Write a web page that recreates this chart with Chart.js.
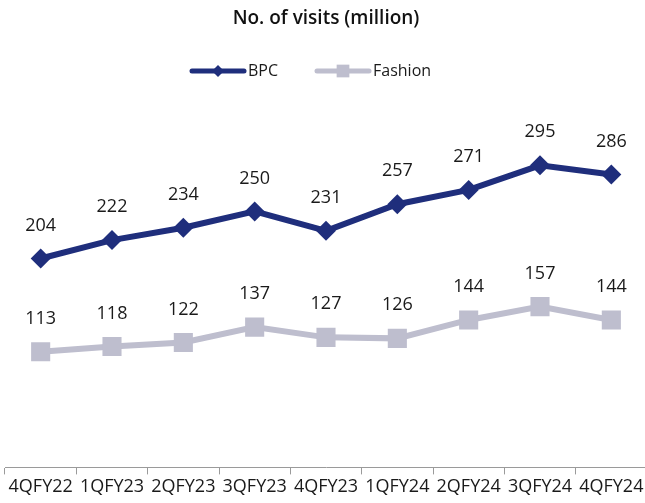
<!DOCTYPE html>
<html lang="en">
<head>
  <meta charset="UTF-8" />
  <title>No. of visits</title>
  <style>
    body {
      margin: 0;
      padding: 0;
      background: #fff;
      overflow: hidden;
    }

    #wrap {
      width: 645px;
      height: 503px;
      overflow: hidden;
    }
  </style>
</head>
<body>
  <div id="wrap">
    <canvas id="visitsChart" width="650" height="503"></canvas>
  </div>

  <script src="https://cdn.jsdelivr.net/npm/chart.js"></script>
  <script>
    const quarters = ["4QFY22", "1QFY23", "2QFY23", "3QFY23", "4QFY23", "1QFY24", "2QFY24", "3QFY24", "4QFY24"];
    const bpcVisits = [204, 222, 234, 250, 231, 257, 271, 295, 286];
    const fashionVisits = [113, 118, 122, 137, 127, 126, 144, 157, 144];

    const BPC_COLOR = "#1f2e7c";
    const FASHION_COLOR = "#bebece";
    const FONT = "'Open Sans', 'Noto Sans', sans-serif";

    // values above every point
    const valueLabels = {
      id: "valueLabels",
      afterDatasetsDraw(chart) {
        const ctx = chart.ctx;
        ctx.save();
        ctx.font = "18px " + FONT;
        ctx.fillStyle = "#1a1a1a";
        ctx.textAlign = "center";
        ctx.textBaseline = "middle";
        chart.data.datasets.forEach((ds, i) => {
          chart.getDatasetMeta(i).data.forEach((pt, j) => {
            ctx.fillText(ds.data[j], pt.x, pt.y - 33);
          });
        });
        ctx.restore();
      }
    };

    // legend drawn as line + marker, like the office chart
    const lineLegend = {
      id: "lineLegend",
      afterDraw(chart) {
        const ctx = chart.ctx;
        const items = [
          { x: 190, text: "BPC", color: BPC_COLOR, style: "rectRot", r: 6 },
          { x: 315, text: "Fashion", color: FASHION_COLOR, style: "rect", r: 9 }
        ];
        const y = 71;
        ctx.save();
        ctx.font = "16px " + FONT;
        ctx.textBaseline = "middle";
        items.forEach(it => {
          ctx.strokeStyle = it.color;
          ctx.lineWidth = 5;
          ctx.lineCap = "round";
          ctx.beginPath();
          ctx.moveTo(it.x + 2, y);
          ctx.lineTo(it.x + 54, y);
          ctx.stroke();
          ctx.fillStyle = it.color;
          Chart.helpers.drawPoint(ctx, { pointStyle: it.style, rotation: 0, radius: it.r, borderWidth: 0 }, it.x + 28, y);
          ctx.fillStyle = "#1a1a1a";
          ctx.fillText(it.text, it.x + 58, y);
        });
        ctx.restore();
      }
    };

    new Chart(document.getElementById("visitsChart"), {
      type: "line",
      data: {
        labels: quarters,
        datasets: [
          {
            label: "BPC",
            data: bpcVisits,
            borderColor: BPC_COLOR,
            backgroundColor: BPC_COLOR,
            borderWidth: 6,
            pointStyle: "rectRot",
            pointRadius: 10,
            pointHoverRadius: 10,
            pointBorderWidth: 0
          },
          {
            label: "Fashion",
            data: fashionVisits,
            borderColor: FASHION_COLOR,
            backgroundColor: FASHION_COLOR,
            borderWidth: 6,
            pointStyle: "rect",
            pointRadius: 13.5,
            pointHoverRadius: 13.5,
            pointBorderWidth: 0
          }
        ]
      },
      options: {
        responsive: false,
        animation: false,
        layout: {
          autoPadding: false,
          padding: { left: 5, right: 3, top: 0, bottom: 3 }
        },
        plugins: {
          title: {
            display: true,
            text: "No. of visits (million)",
            color: "#111",
            font: { family: FONT, size: 19, weight: 600 },
            padding: { top: 7, bottom: 71 }
          },
          legend: { display: false },
          tooltip: { enabled: false }
        },
        scales: {
          x: {
            offset: true,
            afterFit(scale) {
              scale.paddingLeft = 0;
              scale.paddingRight = 0;
            },
            grid: {
              offset: true,
              drawOnChartArea: false,
              drawTicks: true,
              tickLength: 7,
              color: "#9a9a9a"
            },
            border: { display: true, color: "#9a9a9a", width: 1 },
            ticks: {
              color: "#1a1a1a",
              font: { family: FONT, size: 18 },
              padding: 2,
              maxRotation: 0,
              autoSkip: false
            }
          },
          y: {
            display: false,
            min: 0,
            max: 358
          }
        }
      },
      plugins: [valueLabels, lineLegend]
    });
  </script>
</body>
</html>
